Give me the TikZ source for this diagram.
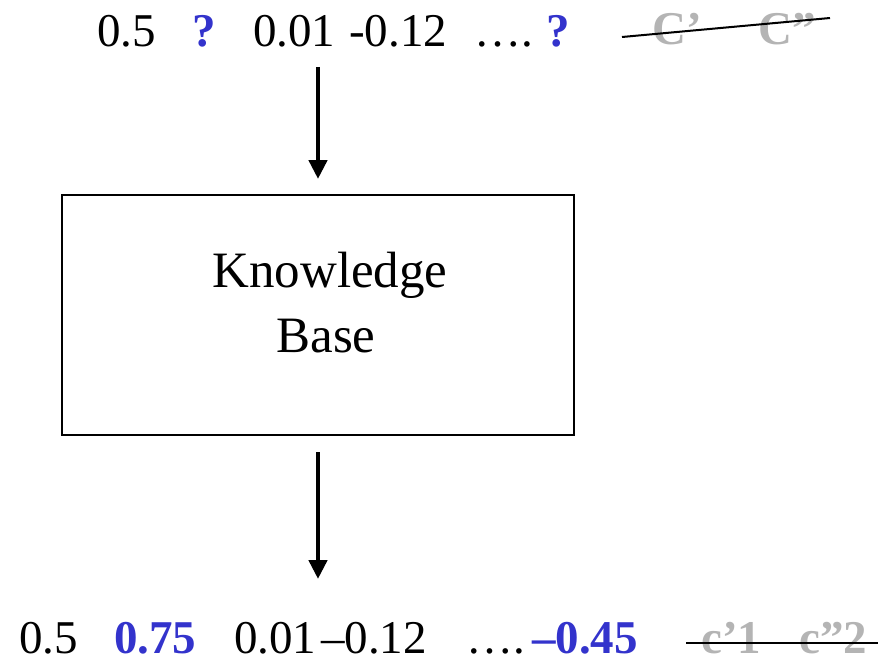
\documentclass[tikz,border=0pt]{standalone}
\usepackage{fontspec}
\setmainfont{Liberation Serif}
\usetikzlibrary{arrows.meta}
\definecolor{qblue}{RGB}{51,51,204}
\definecolor{qgray}{RGB}{180,180,180}
\begin{document}
\begin{tikzpicture}[x=1pt,y=-1pt,
  num/.style={anchor=base west,inner sep=0pt,text depth=0pt,font=\fontsize{47}{50}\selectfont},
  bnum/.style={num,text=qblue,font=\fontsize{47}{50}\selectfont\bfseries},
  gnum/.style={num,text=qgray,font=\fontsize{47}{50}\selectfont\bfseries},
  kbox/.style={draw,line width=1.6pt,minimum width=512pt,minimum height=240pt,inner sep=0pt},
  flow/.style={line width=4.5pt,-{Triangle[width=18pt,length=19pt]}},
  strike/.style={line width=2pt}]
\useasboundingbox (0,0) rectangle (878,661);
% top row
\node[num] (t1) at (97,47) {0.5};
\node[bnum] (t2) at (192,47) {?};
\node[num] (t3) at (253,47) {0.01};
\node[num] (t4) at (349,47) {-0.12};
\node[num] (t5) at (474,47) {….};
\node[bnum] (t6) at (546,47) {?};
\node[gnum] (t7) at (652,45) {C’};
\node[gnum] (t8) at (758,45) {C”};
\coordinate (s1) at (622,37);
\coordinate (s2) at (830,18);
\draw[strike] (s1) -- (s2);
% box
\node[kbox] (kb) at (318,315) {};
\node[anchor=base,inner sep=0pt,font=\fontsize{51}{55}\selectfont] (k1) at (330,287) {Knowledge};
\node[anchor=base,inner sep=0pt,font=\fontsize{51}{55}\selectfont] (k2) at (326,352) {Base};
% arrows
\coordinate (a1) at (318,67);
\coordinate (a2) at (318,179);
\coordinate (a3) at (318,452);
\coordinate (a4) at (318,579);
\draw[flow] (a1) -- (a2);
\draw[flow] (a3) -- (a4);
% bottom row
\node[num] (b1) at (19,653) {0.5};
\node[bnum] (b2) at (114,653) {0.75};
\node[num] (b3) at (234,653) {0.01};
\node[num] (b4) at (321,653) {–0.12};
\node[num] (b5) at (466,653) {….};
\node[bnum] (b6) at (532,653) {–0.45};
\node[gnum] (b7) at (701,653) {c’1};
\node[gnum] (b8) at (799,653) {c”2};
\coordinate (s3) at (686,643);
\coordinate (s4) at (878,643);
\draw[strike] (s3) -- (s4);
\end{tikzpicture}
\end{document}
